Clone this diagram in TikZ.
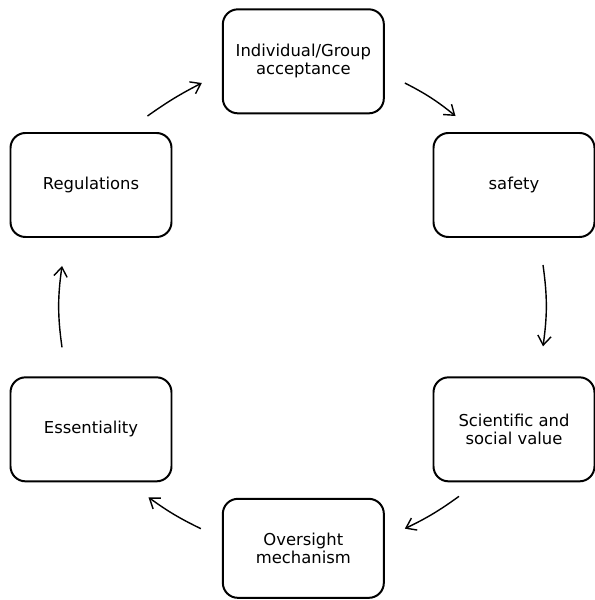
\documentclass[tikz,border=0pt]{standalone}
\usepackage{fontspec}
\setmainfont{DejaVu Sans}
\usetikzlibrary{arrows.meta}

\begin{document}
\begin{tikzpicture}[>={Straight Barb[length=2.8mm,width=4mm]},
    box/.style={draw,line width=1.7pt,rounded corners=0.45cm,
        minimum width=4.83cm,minimum height=3.12cm,align=center,
        font=\fontsize{14}{15.5}\selectfont},
    flow/.style={->,line width=1.2pt}]
    \useasboundingbox (0,0) rectangle (17.85,18);

    \node[box] (acc) at (9.1,16.16) {Individual/Group\\acceptance};
    \node[box] (safety) at (15.42,12.45) {safety};
    \node[box] (sci) at (15.42,5.12) {Scientific and\\social value};
    \node[box,minimum height=2.97cm] (over) at (9.1,1.55) {Oversight\\mechanism};
    \node[box] (ess) at (2.73,5.12) {Essentiality};
    \node[box] (reg) at (2.73,12.45) {Regulations};

    \draw[flow] ([shift={(-0.75,0.48)}]reg.north east)
        to[bend left=4] ([shift={(-0.6,-0.65)}]acc.west);
    \draw[flow] ([shift={(0.6,-0.65)}]acc.east)
        to[bend left=6] ([shift={(0.69,0.48)}]safety.north west);
    \draw[flow] ([shift={(0.87,-0.81)}]safety.south)
        to[bend left=8] ([shift={(0.87,0.9)}]sci.north);
    \draw[flow] ([shift={(-1.65,-0.42)}]sci.south)
        to[bend left=5] ([shift={(0.6,0.59)}]over.east);
    \draw[flow] ([shift={(-0.63,0.59)}]over.west)
        to[bend left=5] ([shift={(-0.72,-0.45)}]ess.south east);
    \draw[flow] ([shift={(-0.87,0.87)}]ess.north)
        to[bend left=8] ([shift={(-0.87,-0.84)}]reg.south);
\end{tikzpicture}
\end{document}
